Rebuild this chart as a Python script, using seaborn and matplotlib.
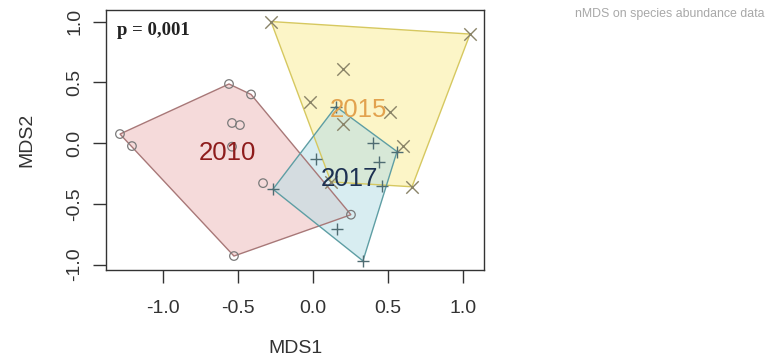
import numpy as np
import pandas as pd
import matplotlib
matplotlib.use("Agg")
import matplotlib.pyplot as plt
from matplotlib.patches import Polygon
import seaborn as sns

# nMDS site scores per sampling year
mds1_2010 = [-1.287, -1.207, -0.56, -0.413, -0.54, -0.487, -0.54, -0.333, -0.527, 0.253]
mds2_2010 = [0.074, -0.025, 0.486, 0.40, 0.165, 0.148, -0.03, -0.33, -0.93, -0.59]

mds1_2015 = [-0.28, 1.047, 0.20, -0.02, 0.20, 0.513, 0.60, 0.66, 0.12]
mds2_2015 = [1.00, 0.897, 0.61, 0.34, 0.156, 0.255, -0.025, -0.36, -0.32]

mds1_2017 = [0.153, 0.40, 0.56, 0.44, 0.46, 0.02, -0.267, 0.16, 0.333]
mds2_2017 = [0.30, 0.0, -0.07, -0.16, -0.35, -0.13, -0.38, -0.71, -0.97]

years = ["2010", "2015", "2017"]
centroid_label_x = [-0.573, 0.30, 0.245]
centroid_label_y = [-0.078, 0.27, -0.292]

p_text = "p = 0,001"
side_title = "nMDS on species abundance data"

df = pd.concat([
    pd.DataFrame({"MDS1": mds1_2010, "MDS2": mds2_2010, "year": "2010"}),
    pd.DataFrame({"MDS1": mds1_2015, "MDS2": mds2_2015, "year": "2015"}),
    pd.DataFrame({"MDS1": mds1_2017, "MDS2": mds2_2017, "year": "2017"}),
], ignore_index=True)

fill_colors = {"2010": "#eebcbc", "2015": "#fbee9a", "2017": "#b9dfe6"}
edge_colors = {"2010": "#a87878", "2015": "#d6c860", "2017": "#5e9ea4"}
point_colors = {"2010": "#7a7a7a", "2015": "#8a8468", "2017": "#4f6c72"}
label_colors = {"2010": "#8e1c1c", "2015": "#e2a24e", "2017": "#1d3152"}


def convex_hull(pts):
    pts = sorted(set(map(tuple, pts)))
    if len(pts) < 3:
        return pts

    def cross(o, a, b):
        return (a[0] - o[0]) * (b[1] - o[1]) - (a[1] - o[1]) * (b[0] - o[0])

    lower, upper = [], []
    for p in pts:
        while len(lower) >= 2 and cross(lower[-2], lower[-1], p) <= 0:
            lower.pop()
        lower.append(p)
    for p in reversed(pts):
        while len(upper) >= 2 and cross(upper[-2], upper[-1], p) <= 0:
            upper.pop()
        upper.append(p)
    return lower[:-1] + upper[:-1]


sns.set_style("white")
plt.rcParams["font.family"] = ["Liberation Sans", "DejaVu Sans"]

fig = plt.figure(figsize=(7.68, 3.61), dpi=100)
ax = fig.add_axes([106 / 768, 1 - 270 / 361, (484 - 106) / 768, (270 - 10) / 361])

# convex hulls per year
for yr in years:
    sub = df[df["year"] == yr]
    hull = convex_hull(sub[["MDS1", "MDS2"]].values)
    ax.add_patch(Polygon(hull, closed=True, facecolor=fill_colors[yr], alpha=0.55,
                         edgecolor="none", zorder=1))
    ax.add_patch(Polygon(hull, closed=True, facecolor="none",
                         edgecolor=edge_colors[yr], lw=1.0, zorder=2))

# site points
for yr in years:
    sub = df[df["year"] == yr]
    if yr == "2010":
        sns.scatterplot(data=sub, x="MDS1", y="MDS2", ax=ax, marker="o", s=38,
                        facecolor="none", edgecolor=point_colors[yr], linewidth=0.9,
                        zorder=3, legend=False)
    else:
        m = "x" if yr == "2015" else "+"
        sns.scatterplot(data=sub, x="MDS1", y="MDS2", ax=ax, marker=m, s=80,
                        color=point_colors[yr], linewidth=1.0, zorder=3, legend=False)

for yr, lx, ly in zip(years, centroid_label_x, centroid_label_y):
    ax.text(lx, ly, yr, color=label_colors[yr], fontsize=18.5, ha="center", va="center",
            zorder=5)

ax.text(0.028, 0.955, p_text, transform=ax.transAxes, fontsize=13.5, fontweight="bold",
        family=["Liberation Serif", "DejaVu Serif"], ha="left", va="top", color="#222222")

ax.set_xlim(-1.38, 1.14)
ax.set_ylim(-1.045, 1.095)
ax.set_xticks([-1.0, -0.5, 0.0, 0.5, 1.0])
ax.set_yticks([-1.0, -0.5, 0.0, 0.5, 1.0])
ax.set_xticklabels(["-1.0", "-0.5", "0.0", "0.5", "1.0"])
ax.set_yticklabels(["-1.0", "-0.5", "0.0", "0.5", "1.0"], rotation=90, va="center")
ax.tick_params(axis="both", direction="out", length=9.5, width=1, color="#333333",
               labelsize=14, labelcolor="#333333", bottom=True, left=True)
ax.tick_params(axis="x", pad=12)
ax.tick_params(axis="y", pad=7)
for s in ax.spines.values():
    s.set_visible(True)
    s.set_color("#333333")
    s.set_linewidth(1.0)

ax.set_xlabel("MDS1", fontsize=14, color="#333333", labelpad=17)
ax.set_ylabel("MDS2", fontsize=14, color="#333333", labelpad=22)

fig.text(575 / 768, 1 - 14 / 361, side_title, fontsize=8.9, color="#a8a8a8",
         ha="left", va="center")

fig.savefig("out.png", dpi=100)
